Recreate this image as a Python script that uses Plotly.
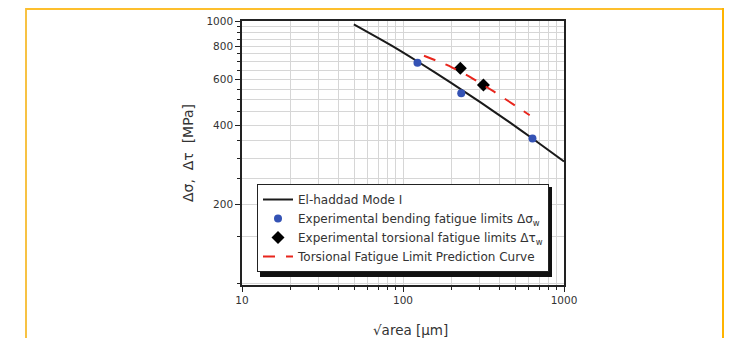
import plotly.graph_objects as go

# ---- data ----
haddad_x = [49.5, 84, 124, 198, 305, 458, 637, 1000]
haddad_y = [971, 809, 699, 582, 488, 411, 356, 291]

bend_x = [123, 230, 637]
bend_y = [693, 530, 356]

tors_x = [227, 316]
tors_y = [660, 570]

pred_x = [135, 190, 265, 370, 612]
pred_y = [737, 677, 608, 536, 437]

x_major = [10, 100, 1000]
x_minor = [20, 30, 40, 50, 60, 70, 80, 90, 200, 300, 400, 500, 600, 700, 800, 900]
y_major = [200, 400, 600, 800, 1000]
y_minor = [100, 150, 250, 300, 350, 450, 500, 550, 650, 700, 750, 850, 900, 950]

# ---- layout geometry (pixels); page body has an 8px margin ----
OFF = 8
W, H = 732 - OFF, 338 - OFF
L, R, T, B = 242 - OFF, 168, 21 - OFF, 53
pw, ph = W - L - R, H - T - B

def px(xs):  # screen x -> paper
    return (xs - OFF - L) / pw

def py(ys):  # screen y -> paper
    return (H + OFF - B - ys) / ph

FONT = "DejaVu Sans, Verdana, sans-serif"

fig = go.Figure()

fig.add_trace(go.Scatter(
    x=haddad_x, y=haddad_y, mode="lines", name="El-haddad Mode I",
    line=dict(color="#1a1a1a", width=2, shape="spline", smoothing=0.5)))
fig.add_trace(go.Scatter(
    x=bend_x, y=bend_y, mode="markers",
    name="Experimental bending fatigue limits Δσ<sub>w</sub>",
    marker=dict(color="#3452b4", size=8, symbol="circle")))
fig.add_trace(go.Scatter(
    x=tors_x, y=tors_y, mode="markers",
    name="Experimental torsional fatigue limits Δτ<sub>w</sub>",
    marker=dict(color="#000000", size=10, symbol="diamond")))
fig.add_trace(go.Scatter(
    x=pred_x, y=pred_y, mode="lines",
    name="Torsional Fatigue Limit Prediction Curve",
    line=dict(color="#e8251c", width=2, dash="12px,11px", shape="spline", smoothing=0.5)))

axis_common = dict(
    showline=True, linecolor="#222", linewidth=1.5, mirror=True,
    ticks="outside", ticklen=5, tickcolor="#222", tickwidth=1,
    showgrid=True, gridcolor="#d6d6d6", gridwidth=1,
    tickfont=dict(family=FONT, size=10.5, color="#333"),
    zeroline=False,
)

fig.update_xaxes(
    type="log", range=[1, 3],
    tickmode="array", tickvals=x_major, ticktext=[str(v) for v in x_major],
    minor=dict(tickmode="array", tickvals=x_minor, ticks="outside", ticklen=3,
               tickcolor="#222", showgrid=True, gridcolor="#d6d6d6"),
    **axis_common)

fig.update_yaxes(
    type="log", range=[1.9925, 3],
    tickmode="array", tickvals=y_major, ticktext=[str(v) for v in y_major],
    minor=dict(tickmode="array", tickvals=y_minor, ticks="outside", ticklen=3,
               tickcolor="#222", showgrid=True, gridcolor="#d6d6d6"),
    title=dict(text="Δσ,  Δτ  [MPa]", standoff=10,
               font=dict(family=FONT, size=14, color="#333")),
    **axis_common)

shapes = [
    # legend drop shadow
    dict(type="rect", xref="paper", yref="paper",
         x0=px(260), x1=px(552), y0=py(277), y1=py(187),
         fillcolor="#111", line=dict(width=0), layer="above"),
    # yellow frame
    dict(type="line", xref="paper", yref="paper", x0=px(26), x1=px(26), y0=py(7), y1=py(345),
         line=dict(color="#f7c244", width=2)),
    dict(type="line", xref="paper", yref="paper", x0=px(26), x1=px(723), y0=py(9), y1=py(9),
         line=dict(color="#fdbf2d", width=2)),
    dict(type="line", xref="paper", yref="paper", x0=px(723), x1=px(723), y0=py(7), y1=py(345),
         line=dict(color="#ffb400", width=2)),
]

annotations = [
    dict(text="√area [μm]", xref="paper", yref="paper", x=px(410), y=py(330),
         xanchor="center", yanchor="middle", showarrow=False,
         font=dict(family=FONT, size=13.5, color="#333")),
]

fig.update_layout(
    width=W, height=H,
    margin=dict(l=L, r=R, t=T, b=B, autoexpand=False),
    paper_bgcolor="white", plot_bgcolor="white",
    showlegend=True,
    legend=dict(x=px(257), y=py(184), xanchor="left", yanchor="top",
                bgcolor="white", bordercolor="#222", borderwidth=1,
                font=dict(family=FONT, size=12, color="#333"),
                tracegroupgap=0, itemwidth=30),
    shapes=shapes,
    annotations=annotations,
)

fig.write_html("out.html")
